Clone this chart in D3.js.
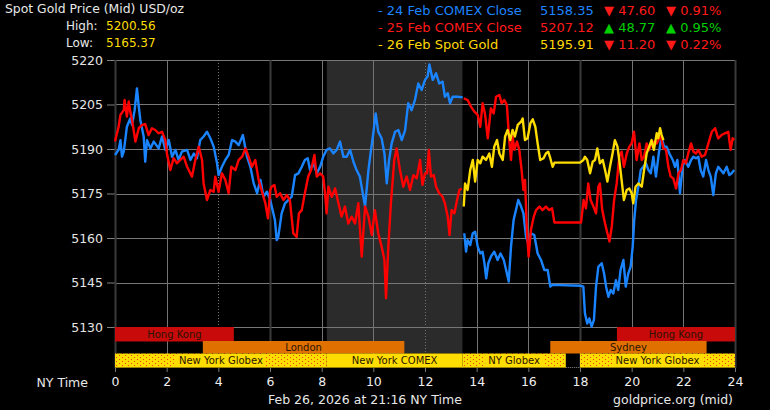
<!DOCTYPE html>
<html>
<head>
<meta charset="utf-8">
<script src="https://cdn.jsdelivr.net/npm/d3@7"></script>
<style>
  body{margin:0;background:#000;}
  svg{display:block;font-family:"DejaVu Sans",Verdana,sans-serif;}
</style>
</head>
<body>
<div id="chart"></div>
<script>
// ---- data (hours NY time, USD/oz) ----
var hourTicks = [0,2,4,6,8,10,12,14,16,18,20,22,24];
var priceTicks = [5130,5145,5160,5175,5190,5205,5220];
var darkHours = [0,6,18,24];
var dottedHours = [4,12];
var comexHours = [8.2,13.45];

var legendNames = ["24 Feb COMEX Close","25 Feb COMEX Close","26 Feb Spot Gold"];
var legendCloses = ["5158.35","5207.12","5195.91"];
var legendChanges = ["47.60","48.77","11.20"];
var legendPcts = ["0.91%","0.95%","0.22%"];
var legendUp = [false,true,false];
var highLow = [["High:","5200.56"],["Low:","5165.37"]];

var sessions = [
	{name:"Hong Kong", row:0, start:0, end:4.6},
	{name:"Hong Kong", row:0, start:19.43, end:24},
	{name:"London", row:1, start:3.4, end:11.2},
	{name:"Sydney", row:1, start:16.85, end:22.9},
	{name:"New York Globex", row:2, start:0, end:8.2, globex:true},
	{name:"New York COMEX", row:2, start:8.2, end:13.45},
	{name:"NY Globex", row:2, start:13.45, end:17.45, globex:true},
	{name:"New York Globex", row:2, start:18, end:24, globex:true}
];

var feb24 = [[0.00,5188.0],[0.14,5189.7],[0.21,5193.0],[0.27,5187.4],[0.34,5189.1],[0.46,5197.5],[0.59,5200.3],[0.66,5198.1],[0.76,5203.1],[0.85,5210.4],[0.92,5204.3],[0.98,5199.8],[1.11,5194.2],[1.17,5185.7],[1.24,5193.0],[1.37,5190.2],[1.50,5192.5],[1.69,5190.2],[1.82,5194.2],[1.95,5189.7],[2.08,5193.0],[2.21,5187.4],[2.34,5189.7],[2.46,5186.3],[2.59,5189.1],[2.79,5189.7],[2.92,5186.3],[3.05,5188.5],[3.17,5186.9],[3.30,5193.0],[3.43,5194.2],[3.56,5195.8],[3.69,5193.6],[3.82,5190.8],[3.95,5185.2],[4.01,5181.2],[4.14,5184.0],[4.27,5186.3],[4.40,5188.0],[4.53,5193.0],[4.66,5192.5],[4.79,5191.3],[4.95,5194.7],[5.11,5187.4],[5.24,5184.0],[5.37,5178.4],[5.50,5175.1],[5.56,5177.3],[5.63,5179.6],[5.75,5173.9],[5.88,5175.6],[6.01,5172.8],[6.19,5166.1],[6.26,5159.3],[6.32,5160.4],[6.45,5168.3],[6.58,5171.7],[6.71,5172.8],[6.84,5173.9],[6.97,5181.2],[7.10,5181.8],[7.23,5184.0],[7.35,5186.3],[7.46,5186.9],[7.55,5182.9],[7.68,5185.2],[7.81,5181.8],[7.94,5184.0],[8.06,5187.4],[8.19,5189.7],[8.32,5190.2],[8.45,5188.5],[8.58,5189.7],[8.71,5192.5],[8.84,5187.4],[8.97,5187.4],[9.10,5189.7],[9.23,5185.7],[9.35,5182.9],[9.48,5180.7],[9.59,5175.1],[9.68,5170.6],[9.81,5182.9],[9.91,5189.7],[10.00,5195.3],[10.09,5202.0],[10.19,5195.8],[10.32,5193.6],[10.43,5188.5],[10.52,5178.4],[10.61,5186.3],[10.71,5191.9],[10.84,5195.8],[10.97,5196.4],[11.10,5193.0],[11.23,5196.4],[11.35,5205.4],[11.48,5203.1],[11.61,5206.5],[11.74,5212.1],[11.87,5209.9],[12.00,5213.3],[12.10,5214.4],[12.17,5218.5],[12.30,5213.3],[12.43,5215.5],[12.55,5212.1],[12.68,5212.7],[12.77,5207.6],[12.88,5208.8],[12.97,5205.4],[13.07,5207.6],[13.26,5207.6],[13.46,5207.4],
	null,
	[13.52,5161.6],[13.59,5155.4],[13.65,5159.3],[13.75,5157.6],[13.85,5161.6],[13.94,5162.1],[14.04,5157.1],[14.14,5154.8],[14.23,5155.4],[14.30,5151.5],[14.37,5146.4],[14.45,5151.5],[14.55,5153.7],[14.68,5155.4],[14.81,5152.6],[14.92,5154.8],[15.05,5152.6],[15.14,5149.2],[15.24,5145.3],[15.33,5157.1],[15.43,5166.1],[15.52,5169.4],[15.61,5172.8],[15.72,5170.6],[15.81,5168.3],[15.91,5160.4],[16.00,5158.2],[16.10,5161.6],[16.23,5161.0],[16.36,5154.8],[16.49,5152.6],[16.62,5149.2],[16.75,5149.2],[16.85,5143.6],[16.94,5144.2],[18.04,5143.9],[18.13,5143.6],[18.19,5134.6],[18.28,5131.2],[18.36,5132.9],[18.45,5130.1],[18.54,5132.4],[18.62,5143.6],[18.71,5150.3],[18.84,5151.5],[18.93,5148.1],[19.01,5143.6],[19.10,5140.2],[19.19,5142.5],[19.29,5141.3],[19.39,5145.8],[19.48,5142.5],[19.57,5149.2],[19.68,5152.6],[19.77,5143.6],[19.87,5148.1],[19.96,5150.3],[20.04,5157.1],[20.10,5166.1],[20.17,5172.8],[20.26,5177.3],[20.35,5182.9],[20.45,5184.0],[20.55,5185.2],[20.65,5182.9],[20.74,5181.8],[20.84,5187.4],[20.94,5180.7],[21.05,5188.5],[21.16,5194.2],[21.25,5190.8],[21.35,5190.8],[21.46,5188.5],[21.59,5186.3],[21.68,5184.0],[21.77,5186.3],[21.87,5175.1],[21.97,5184.0],[22.06,5186.3],[22.19,5184.0],[22.30,5186.3],[22.39,5187.4],[22.49,5186.9],[22.58,5187.4],[22.67,5182.9],[22.77,5180.7],[22.88,5186.3],[22.97,5182.9],[23.06,5180.7],[23.16,5174.5],[23.26,5181.8],[23.35,5184.0],[23.45,5182.9],[23.55,5181.8],[23.68,5184.0],[23.78,5181.2],[23.87,5181.8],[23.97,5182.9]];

var feb25 = [[0.00,5192.5],[0.14,5197.5],[0.21,5201.5],[0.34,5203.1],[0.37,5206.5],[0.46,5200.9],[0.53,5206.0],[0.59,5202.6],[0.66,5199.8],[0.79,5192.5],[0.92,5197.0],[1.05,5198.1],[1.17,5198.4],[1.30,5194.7],[1.43,5197.0],[1.56,5196.4],[1.69,5195.3],[1.82,5195.8],[1.95,5193.0],[2.01,5188.5],[2.14,5182.9],[2.27,5186.9],[2.40,5185.2],[2.53,5186.3],[2.66,5187.4],[2.79,5184.0],[2.98,5180.7],[3.11,5186.3],[3.24,5190.8],[3.37,5186.3],[3.43,5178.4],[3.56,5172.8],[3.69,5176.2],[3.82,5175.6],[3.88,5180.7],[4.01,5175.6],[4.14,5181.8],[4.27,5179.6],[4.40,5175.1],[4.50,5184.0],[4.66,5182.9],[4.79,5186.3],[4.92,5187.4],[5.05,5190.2],[5.17,5187.4],[5.30,5184.0],[5.43,5186.3],[5.56,5179.6],[5.69,5175.6],[5.82,5171.7],[5.92,5166.6],[6.01,5176.2],[6.06,5177.3],[6.17,5177.9],[6.26,5173.9],[6.39,5175.1],[6.52,5172.8],[6.65,5174.5],[6.77,5172.8],[6.90,5161.6],[7.03,5160.4],[7.12,5168.3],[7.23,5169.4],[7.35,5175.1],[7.48,5180.7],[7.59,5182.9],[7.72,5188.0],[7.81,5180.7],[7.94,5181.8],[8.06,5180.7],[8.13,5175.1],[8.19,5168.3],[8.26,5177.3],[8.39,5173.9],[8.52,5176.7],[8.65,5171.7],[8.77,5167.2],[8.90,5170.6],[9.03,5164.9],[9.16,5167.2],[9.29,5164.9],[9.42,5171.7],[9.55,5153.7],[9.68,5170.6],[9.81,5167.2],[9.94,5161.0],[10.06,5169.4],[10.19,5161.6],[10.32,5157.1],[10.43,5152.6],[10.49,5139.7],[10.58,5157.1],[10.68,5171.7],[10.81,5186.3],[10.90,5190.2],[11.03,5182.9],[11.16,5177.3],[11.29,5180.7],[11.42,5176.2],[11.55,5181.2],[11.68,5180.1],[11.81,5186.3],[11.90,5177.9],[12.00,5181.8],[12.08,5181.8],[12.15,5189.7],[12.23,5180.7],[12.34,5181.2],[12.43,5177.3],[12.55,5175.1],[12.68,5173.9],[12.77,5171.7],[12.88,5167.2],[12.95,5161.0],[13.03,5169.4],[13.14,5168.3],[13.24,5172.8],[13.33,5176.2],[13.42,5176.7],
	null,
	[13.50,5207.1],[13.65,5206.5],[13.78,5204.3],[13.91,5202.6],[14.04,5201.5],[14.14,5197.5],[14.23,5205.4],[14.32,5202.0],[14.43,5193.6],[14.55,5203.7],[14.66,5202.0],[14.75,5207.6],[14.88,5208.2],[14.97,5205.4],[15.07,5206.5],[15.17,5204.8],[15.26,5193.0],[15.33,5186.3],[15.39,5194.2],[15.46,5189.7],[15.56,5192.5],[15.65,5189.7],[15.74,5182.9],[15.81,5176.2],[15.87,5179.6],[15.95,5161.6],[16.01,5153.7],[16.10,5162.7],[16.21,5167.2],[16.30,5169.4],[16.43,5170.6],[16.55,5169.4],[16.68,5170.6],[16.81,5169.4],[16.92,5170.0],[17.01,5165.2],[18.04,5165.2],[18.14,5172.8],[18.23,5170.0],[18.32,5178.4],[18.41,5172.8],[18.52,5170.6],[18.62,5168.3],[18.71,5177.3],[18.77,5178.4],[18.86,5169.4],[18.97,5164.9],[19.06,5161.6],[19.14,5158.8],[19.23,5163.8],[19.32,5172.8],[19.42,5178.4],[19.52,5187.4],[19.61,5189.1],[19.70,5184.0],[19.81,5188.5],[19.91,5190.8],[20.00,5191.9],[20.09,5195.8],[20.19,5186.3],[20.30,5191.9],[20.39,5186.3],[20.48,5187.4],[20.58,5191.9],[20.68,5189.7],[20.77,5191.9],[20.86,5192.5],[20.97,5191.9],[21.10,5194.2],[21.16,5193.0],[21.23,5190.2],[21.33,5189.7],[21.42,5184.0],[21.51,5180.7],[21.61,5180.1],[21.72,5176.7],[21.81,5181.8],[21.91,5182.9],[22.00,5186.3],[22.10,5185.2],[22.19,5188.5],[22.30,5191.9],[22.39,5189.1],[22.49,5188.5],[22.58,5189.7],[22.71,5187.4],[22.84,5188.0],[22.97,5191.9],[23.10,5195.8],[23.23,5197.0],[23.35,5193.6],[23.48,5194.7],[23.61,5195.3],[23.74,5195.8],[23.83,5189.7],[23.91,5193.6],[23.97,5193.0]];

var feb26 = [[13.50,5170.6],[13.55,5178.4],[13.65,5176.2],[13.75,5182.9],[13.85,5186.3],[13.94,5179.0],[14.04,5186.3],[14.14,5185.2],[14.23,5187.4],[14.36,5186.3],[14.49,5188.5],[14.59,5184.0],[14.68,5190.8],[14.79,5193.0],[14.88,5188.5],[15.01,5186.3],[15.10,5194.2],[15.20,5196.4],[15.30,5193.0],[15.39,5196.4],[15.48,5194.2],[15.59,5198.1],[15.72,5199.2],[15.78,5200.3],[15.87,5193.0],[15.97,5193.6],[16.08,5198.7],[16.17,5200.0],[16.27,5197.5],[16.36,5191.9],[16.46,5186.3],[16.59,5186.9],[16.68,5188.5],[16.77,5189.1],[16.85,5186.9],[16.94,5184.0],[17.01,5185.4],[18.00,5185.4],[18.13,5186.3],[18.19,5187.4],[18.28,5186.3],[18.39,5181.8],[18.49,5185.7],[18.58,5186.3],[18.67,5190.2],[18.77,5185.2],[18.88,5186.3],[18.97,5182.9],[19.06,5179.0],[19.16,5184.0],[19.26,5188.5],[19.35,5193.0],[19.45,5190.8],[19.52,5186.3],[19.61,5179.6],[19.70,5172.8],[19.81,5176.2],[19.91,5176.7],[20.00,5175.1],[20.06,5171.7],[20.15,5177.3],[20.26,5178.4],[20.39,5177.3],[20.48,5182.9],[20.58,5188.5],[20.68,5190.8],[20.77,5193.0],[20.86,5189.7],[20.97,5195.3],[21.03,5193.6],[21.10,5197.0],[21.16,5194.7],[21.23,5193.0]];

var seriesColors = ["#1a84ff","#ff0000","#ffdd00"];

class GoldChart{
	constructor(id,width,height){
		this.margin = {top: 60, right: 35, bottom: 102, left: 115};
		this.totalWidth = width;
		this.totalHeight = height;
		this.width = width - this.margin.left - this.margin.right;     // 620
		this.plotH = 267;

		this.svg = d3.select("#" + id).append("svg")
			.attr("width", width)
			.attr("height", height);
		this.svg.append("rect").attr("width", width).attr("height", height).attr("fill", "#000");

		this.canvas = this.svg.append("g")
			.attr("transform", "translate(" + this.margin.left + "," + this.margin.top + ")");

		this.xScale = d3.scaleLinear().domain([0,24]).range([0, this.width]);
		this.yScale = d3.scaleLinear().domain([5130,5220]).range([this.plotH, 0]);

		// session band rows, below the price area
		this.rows = [[267,14.5],[281,12.5],[293.5,14.5]];
		this.bottom = 308;
	}

	drawGrid(){
		var x = this.xScale, y = this.yScale, that = this;

		this.canvas.append("rect")
			.attr("x", x(comexHours[0]))
			.attr("width", x(comexHours[1]) - x(comexHours[0]))
			.attr("y", 0)
			.attr("height", this.rows[2][0])
			.attr("fill", "#2b2b2b");

		var yAxis = d3.axisLeft(y).tickValues(priceTicks).tickFormat(d3.format("d")).tickSize(8).tickPadding(4);
		var gy = this.canvas.append("g").attr("class","yAxis").call(yAxis);
		gy.select(".domain").remove();
		gy.selectAll("line").attr("stroke", "#808080");
		gy.selectAll("text").attr("fill", "#e4e4e4").style("font-size", "12.5px")
			.style("font-family", "DejaVu Sans, Verdana, sans-serif");

		this.canvas.append("g").selectAll("line")
			.data(priceTicks)
			.enter().append("line")
			.attr("x1", 0).attr("x2", this.width)
			.attr("y1", function(d){ return Math.round(y(d)) + 0.5; })
			.attr("y2", function(d){ return Math.round(y(d)) + 0.5; })
			.attr("stroke", "#777");

		this.canvas.append("g").selectAll("line")
			.data(hourTicks)
			.enter().append("line")
			.attr("x1", function(d){ return Math.round(x(d)) + 0.5; })
			.attr("x2", function(d){ return Math.round(x(d)) + 0.5; })
			.attr("y1", 0).attr("y2", this.bottom)
			.attr("stroke", function(d){ return darkHours.indexOf(d) >= 0 ? "#3a3a3a" : "#747474"; })
			.attr("stroke-width", function(d){ return darkHours.indexOf(d) >= 0 ? 2 : 1; })
			.attr("stroke-dasharray", function(d){ return dottedHours.indexOf(d) >= 0 ? "1,2" : null; });
	}

	drawSessions(){
		var x = this.xScale, that = this;
		var fills = ["#c80a0a","#e07000","#ffdd00"];

		var pat = this.svg.append("defs").append("pattern")
			.attr("id", "globexDots")
			.attr("patternUnits", "userSpaceOnUse")
			.attr("width", 6).attr("height", 4);
		pat.append("rect").attr("width", 6).attr("height", 4).attr("fill", "#ffdd00");
		pat.append("rect").attr("x", 1).attr("y", 1).attr("width", 1).attr("height", 1).attr("fill", "#e8401a");
		pat.append("rect").attr("x", 4).attr("y", 3).attr("width", 1).attr("height", 1).attr("fill", "#e8401a");

		var g = this.canvas.append("g").attr("class", "sessions");
		sessions.forEach(function(s){
			var r = that.rows[s.row];
			var x0 = x(s.start), x1 = x(s.end);
			g.append("rect")
				.attr("x", x0).attr("y", r[0])
				.attr("width", x1 - x0).attr("height", r[1])
				.attr("fill", s.globex ? "url(#globexDots)" : fills[s.row]);
			if (s.row == 2){
				g.append("line")
					.attr("x1", x0).attr("x2", x1)
					.attr("y1", r[0] + r[1] - 0.5).attr("y2", r[0] + r[1] - 0.5)
					.attr("stroke", "#9a8200");
			}
			var t = g.append("text")
				.attr("x", (x0 + x1) / 2)
				.attr("y", r[0] + r[1] / 2)
				.attr("dy", "0.36em")
				.attr("text-anchor", "middle")
				.attr("fill", "#2a1400")
				.style("font-size", "10px")
				.text(s.name);
			if (s.globex){
				var w = t.node().getComputedTextLength();
				g.insert("rect", function(){ return t.node(); })
					.attr("x", (x0 + x1) / 2 - w / 2 - 3).attr("y", r[0] + 1)
					.attr("width", w + 6).attr("height", r[1] - 2)
					.attr("fill", "#ffdd00");
			}
		});

		// gap between the Globex sessions
		g.append("line")
			.attr("x1", x(17.45)).attr("x2", x(18))
			.attr("y1", this.bottom - 0.5).attr("y2", this.bottom - 0.5)
			.attr("stroke", "#888").attr("stroke-dasharray", "1,1");
	}

	drawLines(){
		var x = this.xScale, y = this.yScale;
		var toline = d3.line()
			.defined(function(d){ return d !== null; })
			.x(function(d){ return x(d[0]); })
			.y(function(d){ return y(d[1]); });

		this.canvas.append("g").selectAll("path")
			.data([feb24, feb25, feb26])
			.enter().append("path")
			.attr("d", toline)
			.attr("fill", "none")
			.attr("stroke", function(d, i){ return seriesColors[i]; })
			.attr("stroke-width", 2.4)
			.attr("stroke-linejoin", "round");
	}

	drawXAxis(){
		var x = this.xScale;
		var xAxis = d3.axisBottom(x).tickValues(hourTicks).tickSize(4).tickPadding(5);
		var gx = this.canvas.append("g")
			.attr("class", "xAxis")
			.attr("transform", "translate(0," + this.bottom + ")")
			.call(xAxis);
		gx.select(".domain").remove();
		gx.selectAll("line").attr("stroke", "#777");
		gx.selectAll("text").attr("fill", "#eee").style("font-size", "12.5px")
			.style("font-family", "DejaVu Sans, Verdana, sans-serif");
	}

	drawTexts(){
		var svg = this.svg;
		svg.append("text").attr("x", 5).attr("y", 13).attr("fill", "#e8e8e8")
			.style("font-size", "12.4px").text("Spot Gold Price (Mid) USD/oz");

		highLow.forEach(function(h, i){
			svg.append("text").attr("x", 66).attr("y", 30 + i * 17).attr("fill", "#e8e8e8")
				.style("font-size", "12px").text(h[0]);
			svg.append("text").attr("x", 106).attr("y", 30 + i * 17).attr("fill", "#ffdd00")
				.style("font-size", "12px").text(h[1]);
		});

		legendNames.forEach(function(n, i){
			var yy = 15 + i * 17;
			var c = seriesColors[i] == "#ffdd00" ? "#ffd800" : (i == 0 ? "#1e84ff" : "#ff1a1a");
			svg.append("text").attr("x", 378).attr("y", yy).attr("fill", c)
				.style("font-size", "13px").text("- " + n);
			svg.append("text").attr("x", 540).attr("y", yy).attr("fill", c)
				.style("font-size", "13px").text(legendCloses[i]);
			var cc = legendUp[i] ? "#00d000" : "#ff1a1a";
			var arrow = legendUp[i] ? "\u25B2" : "\u25BC";
			svg.append("text").attr("x", 604).attr("y", yy).attr("fill", cc)
				.style("font-size", "13px").text(arrow + " " + legendChanges[i]);
			svg.append("text").attr("x", 666).attr("y", yy).attr("fill", cc)
				.style("font-size", "13px").text(arrow + " " + legendPcts[i]);
		});

		svg.append("text").attr("x", 88).attr("y", 387).attr("text-anchor", "end").attr("fill", "#e8e8e8")
			.style("font-size", "12.5px").text("NY Time");
		svg.append("text").attr("x", 268).attr("y", 404).attr("fill", "#e8e8e8")
			.style("font-size", "12.5px").text("Feb 26, 2026 at 21:16 NY Time");
		svg.append("text").attr("x", 733).attr("y", 404).attr("text-anchor", "end").attr("fill", "#e8e8e8")
			.style("font-size", "12.5px").text("goldprice.org (mid)");
	}
}

var chart = new GoldChart("chart", 770, 410);
chart.drawGrid();
chart.drawSessions();
chart.drawLines();
chart.drawXAxis();
chart.drawTexts();
</script>
</body>
</html>
